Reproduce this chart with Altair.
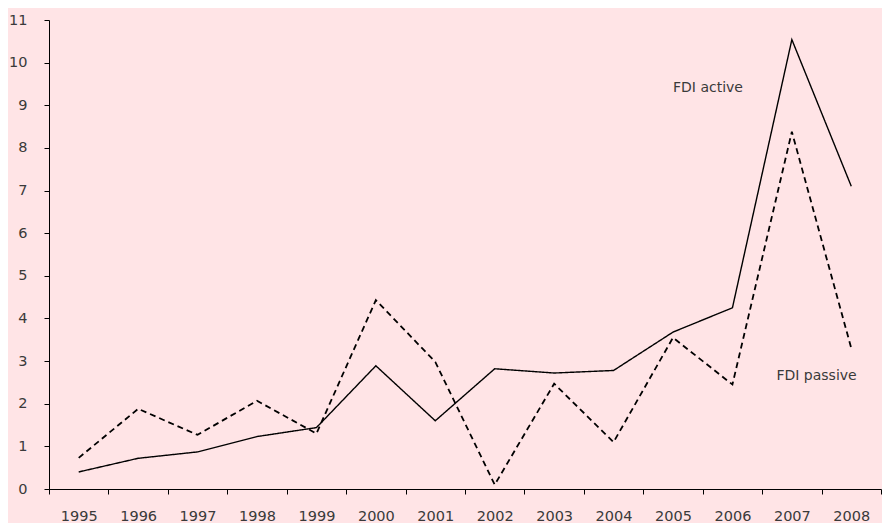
import altair as alt
import pandas as pd

years = [str(y) for y in range(1995, 2009)]
fdi_active = [0.40, 0.72, 0.87, 1.23, 1.44, 2.89, 1.60, 2.82, 2.72, 2.78, 3.68, 4.25, 10.54, 7.10]
fdi_passive = [0.73, 1.88, 1.27, 2.07, 1.30, 4.43, 2.98, 0.10, 2.47, 1.10, 3.55, 2.45, 8.38, 3.30]
series_names = ["FDI active", "FDI passive"]

rows = []
for y, a, p in zip(years, fdi_active, fdi_passive):
    rows.append({"year": y, "value": a, "series": series_names[0]})
    rows.append({"year": y, "value": p, "series": series_names[1]})
df = pd.DataFrame(rows)

label_text = ["FDI active", "FDI passive"]
label_year = ["2005", "2006"]
label_value = [9.4, 2.65]
labels_df = pd.DataFrame({"text": label_text, "year": label_year, "value": label_value})

FONT = "DejaVu Sans"
TXT = "#3a3a3a"

x_enc = alt.X("year:N", sort=years, title=None,
              scale=alt.Scale(paddingInner=0, paddingOuter=0),
              axis=alt.Axis(labelAngle=0, tickBand="extent", grid=False,
                            domainColor="black", tickColor="black", tickSize=5,
                            labelPadding=15, labelFont=FONT, labelFontSize=14.5,
                            labelColor=TXT))
y_enc = alt.Y("value:Q", title=None,
              scale=alt.Scale(domain=[0, 11], nice=False),
              axis=alt.Axis(values=list(range(0, 12)), grid=False,
                            domainColor="black", tickColor="black", tickSize=5,
                            labelPadding=17, labelFont=FONT, labelFontSize=14.5,
                            labelColor=TXT))

lines = alt.Chart(df).mark_line(color="black").encode(
    x=x_enc, y=y_enc,
    detail="series:N",
    strokeDash=alt.StrokeDash("series:N", legend=None,
                              scale=alt.Scale(domain=series_names, range=[[1, 0], [6, 4]])),
    strokeWidth=alt.StrokeWidth("series:N", legend=None,
                                scale=alt.Scale(domain=series_names, range=[1.4, 1.8])),
)

text_a = alt.Chart(labels_df.iloc[[0]]).mark_text(align="left", baseline="middle", font=FONT,
                                                 fontSize=14, color=TXT, dx=0).encode(
    x=alt.X("year:N", sort=years), y="value:Q", text="text:N")
text_p = alt.Chart(labels_df.iloc[[1]]).mark_text(align="left", baseline="middle", font=FONT,
                                                 fontSize=14, color=TXT, dx=44).encode(
    x=alt.X("year:N", sort=years), y="value:Q", text="text:N")

chart = alt.layer(lines, text_a, text_p).properties(
    width=832, height=469, background="#FFE4E6",
    padding={"left": 0, "top": 4, "right": 0, "bottom": 0},
).configure_view(stroke=None)

chart.save("out.html", embed_options={"renderer": "svg", "actions": False})
